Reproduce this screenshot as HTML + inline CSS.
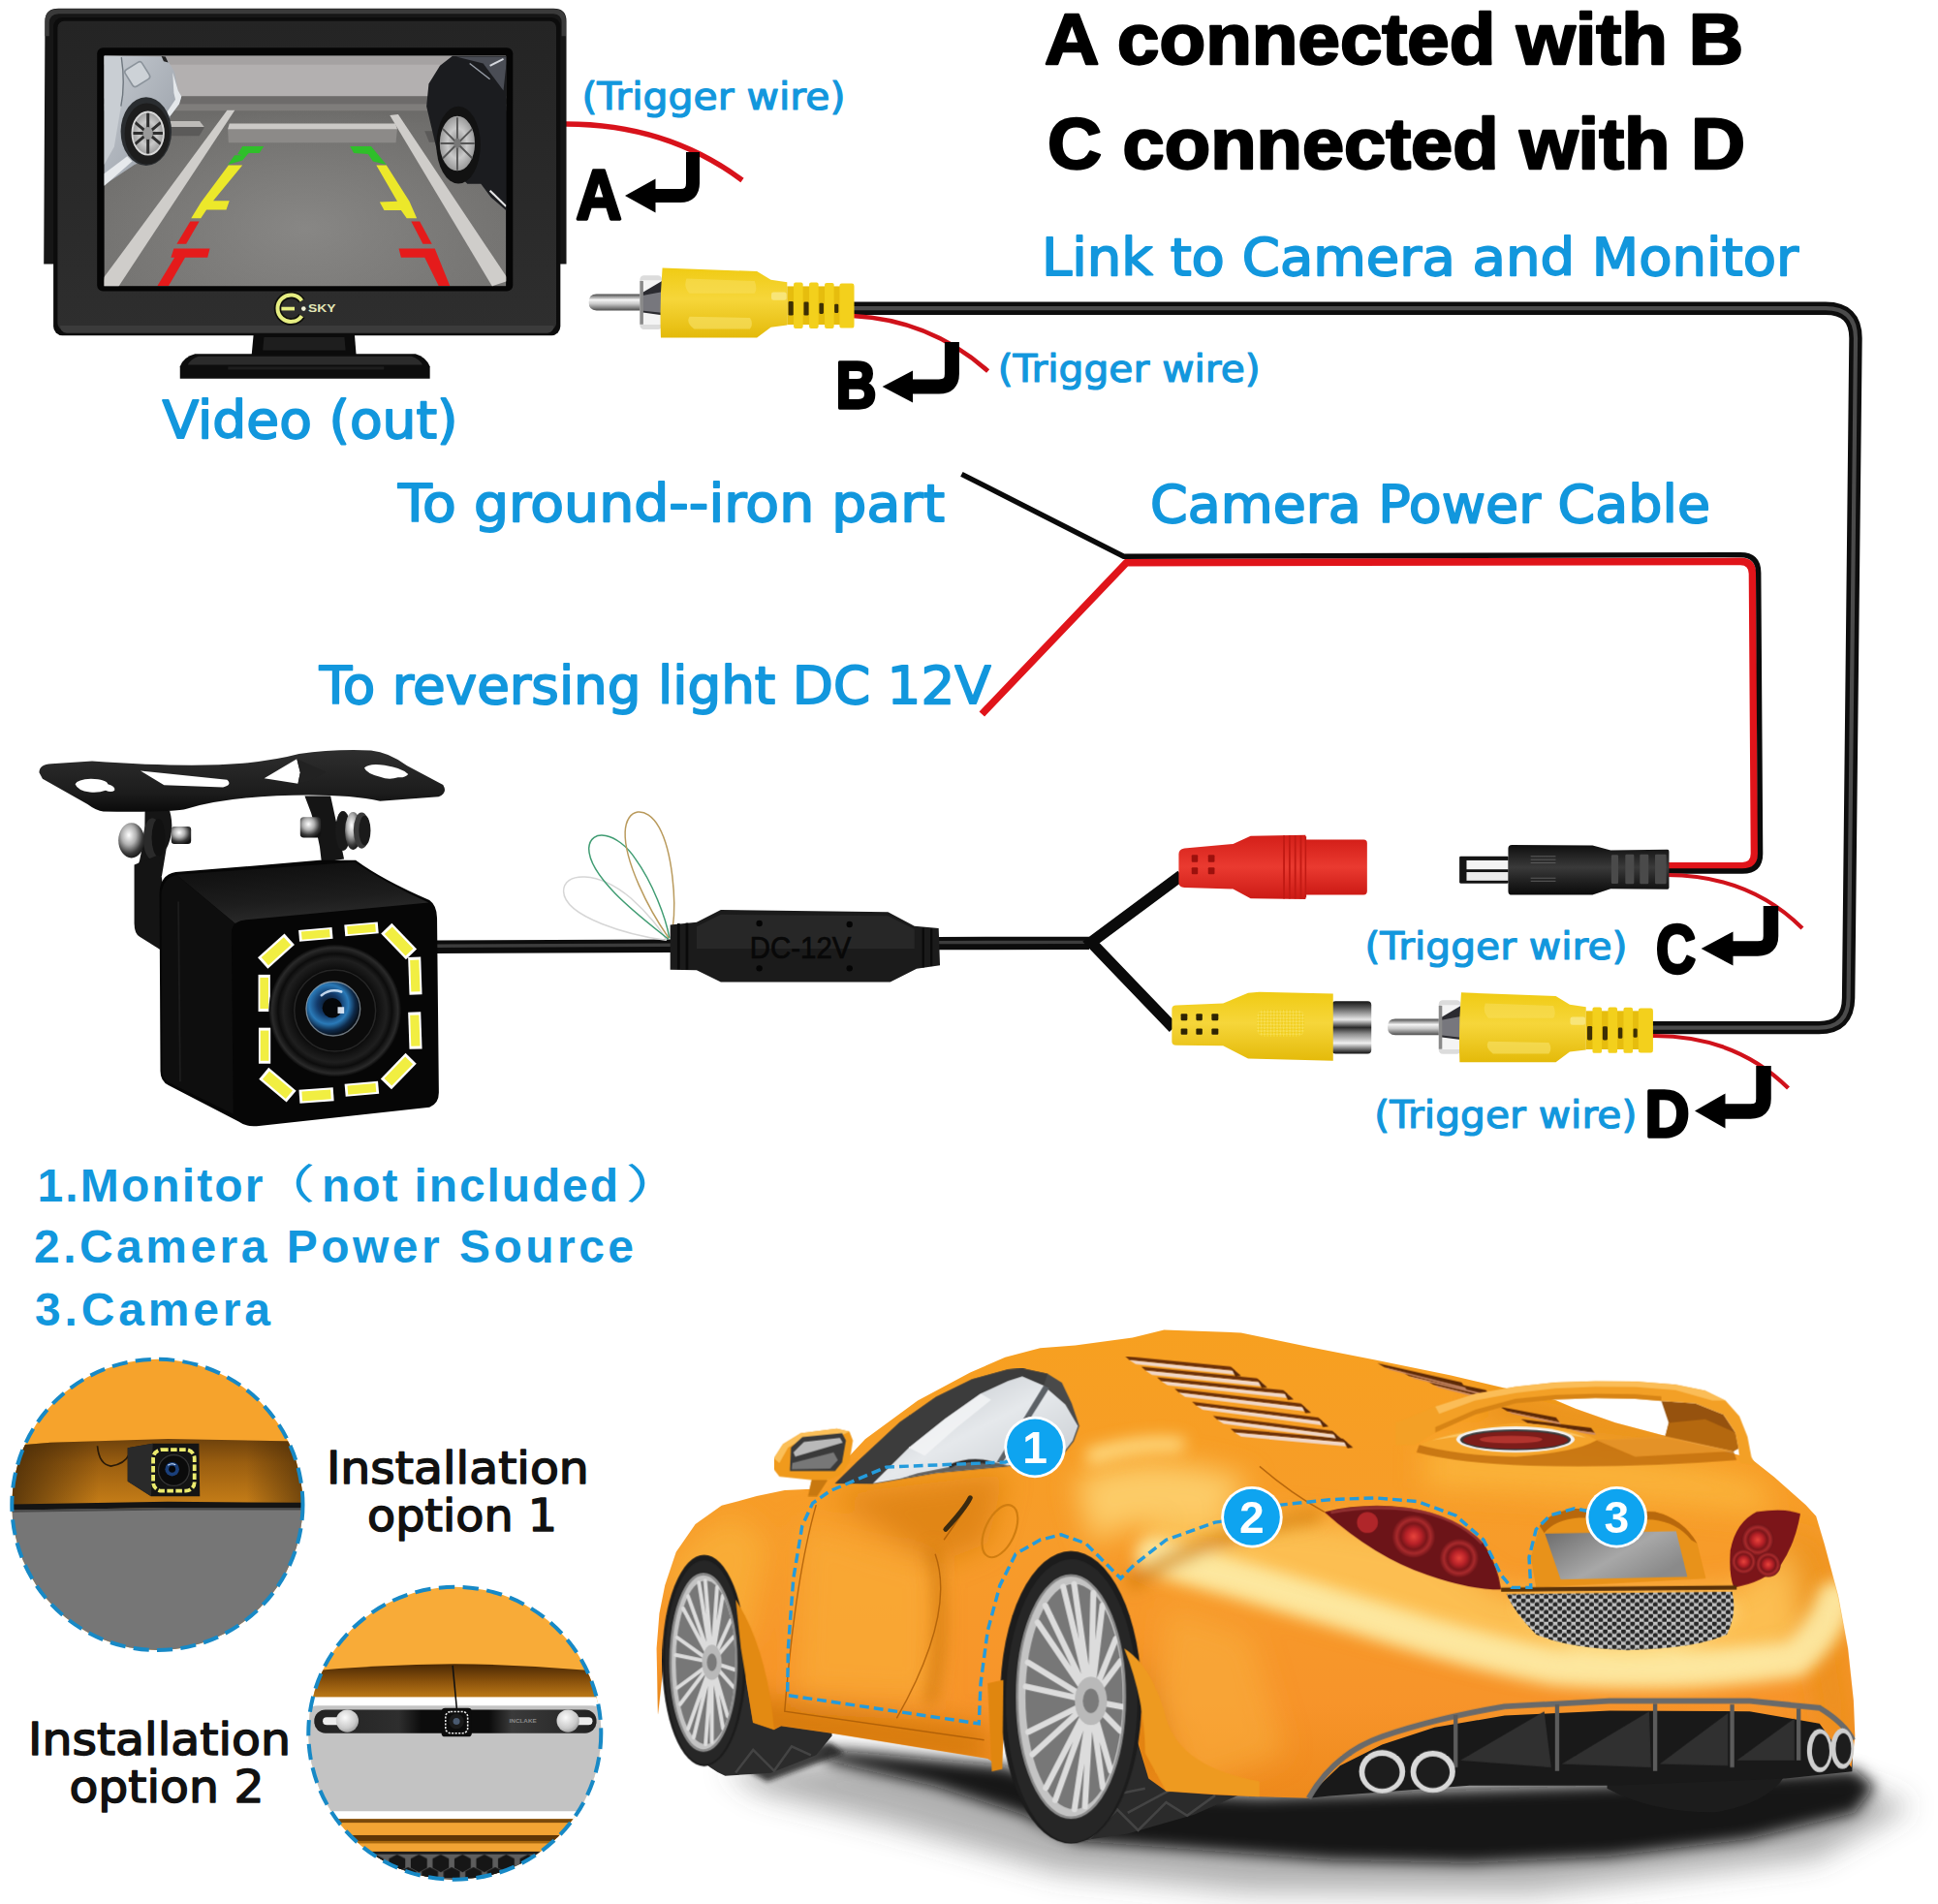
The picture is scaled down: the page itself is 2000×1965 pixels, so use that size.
<!DOCTYPE html>
<html lang="en"><head><meta charset="utf-8"><title>Backup camera wiring diagram</title>
<style>
html,body{margin:0;padding:0;background:#fff}
body{width:2000px;height:1965px;overflow:hidden;position:relative}
svg{position:absolute;left:0;top:0;display:block}
text{white-space:pre;font-family:"Liberation Sans","Noto Sans CJK SC",sans-serif}
.bl{fill:#1297dd}
.bk{fill:#000}
.b{font-weight:bold}
.dj text,text.dj{font-family:"DejaVu Sans","Liberation Sans",sans-serif}
</style></head><body>
<svg width="2000" height="1965" viewBox="0 0 2000 1965">
<defs>
<linearGradient id="gBezel" x1="0" y1="0" x2="0" y2="1"><stop offset="0" stop-color="#242424"/><stop offset="1" stop-color="#2e2e2e"/></linearGradient>
<linearGradient id="gGround" x1="0" y1="0" x2="0" y2="1"><stop offset="0" stop-color="#5e5d5b"/><stop offset="0.3" stop-color="#6f6e6c"/><stop offset="1" stop-color="#757472"/></linearGradient>
<radialGradient id="gGroundC" cx="0.5" cy="0.75" r="0.55"><stop offset="0" stop-color="#8d8c8a" stop-opacity="0.8"/><stop offset="1" stop-color="#8a8987" stop-opacity="0"/></radialGradient>
<linearGradient id="gSilver" x1="0" y1="0" x2="1" y2="1"><stop offset="0" stop-color="#c5cad0"/><stop offset="0.6" stop-color="#a7adb5"/><stop offset="1" stop-color="#8d949c"/></linearGradient>
<radialGradient id="gHub"><stop offset="0" stop-color="#8a8a8a"/><stop offset="0.55" stop-color="#c9c9c9"/><stop offset="1" stop-color="#9a9a9a"/></radialGradient>
<clipPath id="cScreen"><rect x="75" y="75" width="1787" height="1025"/></clipPath>
</defs>
<defs>
<linearGradient id="gPin" x1="0" y1="0" x2="0" y2="1"><stop offset="0" stop-color="#4a4a4a"/><stop offset="0.35" stop-color="#f4f4f4"/><stop offset="0.6" stop-color="#c8c8c8"/><stop offset="1" stop-color="#4f4f4f"/></linearGradient>
<linearGradient id="gYel" x1="0" y1="0" x2="0" y2="1"><stop offset="0" stop-color="#f0cb14"/><stop offset="0.45" stop-color="#f6d63a"/><stop offset="1" stop-color="#e4ba0a"/></linearGradient>
<linearGradient id="gRed" x1="0" y1="0" x2="0" y2="1"><stop offset="0" stop-color="#d41f19"/><stop offset="0.5" stop-color="#ea3a30"/><stop offset="1" stop-color="#cc1a15"/></linearGradient>
<linearGradient id="gSock" x1="0" y1="0" x2="0" y2="1"><stop offset="0" stop-color="#151515"/><stop offset="0.12" stop-color="#555"/><stop offset="0.35" stop-color="#e8e8e8"/><stop offset="0.5" stop-color="#2a2a2a"/><stop offset="0.62" stop-color="#8a8a8a"/><stop offset="0.8" stop-color="#f0f0f0"/><stop offset="0.95" stop-color="#444"/><stop offset="1" stop-color="#111"/></linearGradient>
<linearGradient id="gDcBody" x1="0" y1="0" x2="0" y2="1"><stop offset="0" stop-color="#0e0e0e"/><stop offset="0.45" stop-color="#3a3a3a"/><stop offset="0.7" stop-color="#222"/><stop offset="1" stop-color="#0a0a0a"/></linearGradient>
<pattern id="pDia" width="36" height="36" patternUnits="userSpaceOnUse" patternTransform="rotate(45)"><rect width="36" height="36" fill="#f1cd18"/><rect width="18" height="18" fill="#f8e05a"/><rect x="18" y="18" width="18" height="18" fill="#f8e05a"/></pattern>
<!-- RCA male plug, drawn in 6.2516x zoom space of region (590,250) -->
<g id="rcaM">
<path d="M160,335 L445,335 L445,440 L160,440 Q110,440 110,388 Q110,335 160,335Z" fill="url(#gPin)"/>
<rect x="440" y="214" width="142" height="348" rx="26" fill="#dcdcdc"/>
<rect x="452" y="246" width="130" height="286" rx="8" fill="#f4f4f4"/>
<path d="M448,330 L582,250 L582,470 L448,452Z" fill="#2b2b30"/>
<path d="M448,345 L582,320 L582,455 L448,440Z" fill="#77777d"/>
<path d="M440,250 L462,250 L462,530 L440,530Z" fill="#8a8a8a"/>
<path d="M585,165 L1195,188 L1285,243 L1390,258 L1390,535 L1285,548 L1195,615 L575,615 Q566,390 585,165Z" fill="url(#gYel)"/>
<path d="M740,235 L1180,250 Q1200,300 1180,330 L760,330 Q720,290 740,235Z" fill="#f8df5c" opacity="0.55"/>
<path d="M760,480 L1150,488 Q1175,525 1150,560 L790,560 Q735,520 760,480Z" fill="#f9e26a" opacity="0.6"/>
<rect x="1288" y="322" width="98" height="52" rx="14" fill="#f9e88a" opacity="0.8"/>
<rect x="1390" y="284" width="430" height="248" fill="#e6bd0e"/>
<g fill="#f3d01c"><rect x="1432" y="260" width="60" height="296" rx="12"/><rect x="1532" y="260" width="60" height="296" rx="12"/><rect x="1632" y="262" width="60" height="294" rx="12"/><rect x="1728" y="266" width="94" height="288" rx="14"/></g>
<g fill="#3d2f04"><rect x="1398" y="382" width="32" height="90" rx="8"/><rect x="1497" y="384" width="32" height="88" rx="8"/><rect x="1597" y="392" width="28" height="70" rx="8"/><rect x="1695" y="398" width="26" height="58" rx="8"/></g>
</g>
</defs>
<defs>
<radialGradient id="gLens" cx="0.42" cy="0.42" r="0.6"><stop offset="0" stop-color="#0a0f18"/><stop offset="0.35" stop-color="#123a6a"/><stop offset="0.6" stop-color="#2a7ab8"/><stop offset="0.8" stop-color="#0e2a4a"/><stop offset="1" stop-color="#05080c"/></radialGradient>
<radialGradient id="gLensRing" cx="0.5" cy="0.5" r="0.5"><stop offset="0.6" stop-color="#0a0a0a"/><stop offset="0.78" stop-color="#1f1f1f"/><stop offset="0.86" stop-color="#0c0c0c"/><stop offset="0.95" stop-color="#2a2a2a"/><stop offset="1" stop-color="#080808"/></radialGradient>
<linearGradient id="gCamTop" x1="0" y1="0" x2="0.3" y2="1"><stop offset="0" stop-color="#0c0c0c"/><stop offset="0.7" stop-color="#1d1d1d"/><stop offset="1" stop-color="#2a2a2a"/></linearGradient>
<linearGradient id="gPlate" x1="0" y1="0" x2="0" y2="1"><stop offset="0" stop-color="#2e2e2e"/><stop offset="0.7" stop-color="#1c1c1c"/><stop offset="1" stop-color="#0a0a0a"/></linearGradient>
<radialGradient id="gScrew" cx="0.4" cy="0.35" r="0.7"><stop offset="0" stop-color="#ffffff"/><stop offset="0.4" stop-color="#b0b0b0"/><stop offset="0.75" stop-color="#3a3a3a"/><stop offset="1" stop-color="#111"/></radialGradient>
<g id="led"><rect x="-95" y="-44" width="190" height="88" fill="#fff"/><rect x="-80" y="-31" width="160" height="62" fill="#f1ee42"/></g>
</defs>
<defs>
<filter id="b8" x="-20%" y="-20%" width="140%" height="140%"><feGaussianBlur stdDeviation="8"/></filter>
<filter id="b20" x="-30%" y="-30%" width="160%" height="160%"><feGaussianBlur stdDeviation="20"/></filter>
<filter id="b40" x="-40%" y="-40%" width="180%" height="180%"><feGaussianBlur stdDeviation="40"/></filter>
<linearGradient id="gCar" x1="0" y1="0" x2="0" y2="1"><stop offset="0" stop-color="#f7a020"/><stop offset="0.45" stop-color="#f79c2a"/><stop offset="0.8" stop-color="#f7942a"/><stop offset="1" stop-color="#ee8a1c"/></linearGradient>
<linearGradient id="gRim" x1="0" y1="0" x2="1" y2="1"><stop offset="0" stop-color="#e2e2e2"/><stop offset="0.5" stop-color="#9c9c9c"/><stop offset="1" stop-color="#6e6e6e"/></linearGradient>
<linearGradient id="gPlateC" x1="0" y1="0" x2="1" y2="0.6"><stop offset="0" stop-color="#6c6c6c"/><stop offset="0.6" stop-color="#a8a8a8"/><stop offset="1" stop-color="#8a8a8a"/></linearGradient>
<linearGradient id="gGlass" x1="0" y1="0" x2="1" y2="1"><stop offset="0" stop-color="#b8bdc2"/><stop offset="0.5" stop-color="#e6e9ec"/><stop offset="1" stop-color="#c2c7cc"/></linearGradient>
<radialGradient id="gTail"><stop offset="0" stop-color="#e8443c"/><stop offset="0.35" stop-color="#b82228"/><stop offset="0.6" stop-color="#7a161a"/><stop offset="0.78" stop-color="#a82a2c"/><stop offset="1" stop-color="#6e1418"/></radialGradient>
<pattern id="pMesh" width="26" height="22" patternUnits="userSpaceOnUse"><rect width="26" height="22" fill="#c2c2c2"/><circle cx="6.5" cy="5.5" r="7" fill="#262626"/><circle cx="19.5" cy="16.5" r="7" fill="#262626"/></pattern>
<clipPath id="cCarBody"><path id="carBodyPath" d="M108,1190 L104,1000 L112,900 L128,820 L160,725 L215,645 L290,592 L390,565 L470,548 L545,545 L590,520 L700,402 L850,292 L1000,212 L1100,168 L1200,142 L1300,134 L1464,112 L1554,90 L1774,98 L1974,140 L2154,175 L2374,220 L2500,250 L2672,291 L2729,315 L2843,355 L2981,392 L3100,425 L3227,455 L3297,510 L3387,590 L3417,622 L3440,700 L3480,850 L3508,1000 L3524,1150 L3528,1250 L3518,1340 L3427,1215 L3227,1180 L2827,1178 L2527,1192 L2327,1226 L2177,1275 L2057,1335 L1997,1392 L1967,1428 L1827,1424 L1700,1418 L1560,1408 L1510,1372 L1480,1272 L1440,1000 L1280,745 L1110,1000 L1090,1340 L1050,1315 L600,1242 L460,1222 L440,1232 L380,1212 L345,1000 L240,745 L140,900 Z"/></clipPath>
</defs>
<defs>
<clipPath id="cC1"><circle cx="937" cy="940" r="866"/></clipPath>
<clipPath id="cC2"><circle cx="962" cy="902" r="858"/></clipPath>
<linearGradient id="gBrown1" x1="0" y1="0" x2="0" y2="1"><stop offset="0" stop-color="#6e420c"/><stop offset="0.35" stop-color="#9a5e10"/><stop offset="1" stop-color="#c98018"/></linearGradient>
<linearGradient id="gBrown1h" x1="0" y1="0" x2="1" y2="0"><stop offset="0" stop-color="#3a2206" stop-opacity="0.75"/><stop offset="0.3" stop-color="#3a2206" stop-opacity="0"/><stop offset="0.8" stop-color="#3a2206" stop-opacity="0"/><stop offset="1" stop-color="#3a2206" stop-opacity="0.6"/></linearGradient>
<linearGradient id="gBrown2" x1="0" y1="0" x2="0" y2="1"><stop offset="0" stop-color="#4a2804"/><stop offset="0.5" stop-color="#8a520c"/><stop offset="1" stop-color="#c07c18"/></linearGradient>
<linearGradient id="gBar" x1="0" y1="0" x2="1" y2="0"><stop offset="0" stop-color="#222"/><stop offset="0.3" stop-color="#2e2e2e"/><stop offset="0.38" stop-color="#0c0c0c"/><stop offset="0.62" stop-color="#0c0c0c"/><stop offset="0.7" stop-color="#3a3a3a"/><stop offset="1" stop-color="#222"/></linearGradient>
<radialGradient id="gBall" cx="0.4" cy="0.35" r="0.7"><stop offset="0" stop-color="#fafafa"/><stop offset="0.7" stop-color="#c9c9c9"/><stop offset="1" stop-color="#9a9a9a"/></radialGradient>
<pattern id="pHex" width="128" height="150" patternUnits="userSpaceOnUse" x="560" y="1600"><rect width="128" height="150" fill="#5e5e5e"/><path d="M64,12 L112,38 L112,92 L64,118 L16,92 L16,38Z" fill="#161616"/><path d="M0,87 L48,113 L48,150 L0,150Z M128,87 L80,113 L80,150 L128,150Z M0,0 L0,17 L-48,43Z" fill="#161616"/></pattern>
</defs>
<g id="cables" fill="none" stroke-linecap="butt">
<!-- main video cable -->
<path d="M881,318.2 L1884,318.2 Q1915,318.2 1915,349 L1907.6,1030 Q1907.3,1060.6 1877,1060.6 L1705,1060.6" stroke="#0d0d0d" stroke-width="13.4"/>
<path d="M881,318.2 L1884,318.2 Q1915,318.2 1915,349 L1907.6,1030 Q1907.3,1060.6 1877,1060.6 L1705,1060.6" stroke="#4b4b4b" stroke-width="4.2"/>
<!-- power cable: red inner, black outer -->
<path d="M1013.3,737 L1162.5,580.6 L1796,579.4 Q1808.4,579.4 1808.5,592 L1810.5,881 Q1810.5,893.7 1798,893.7 L1720,893.7" stroke="#e0141a" stroke-width="7.6" stroke-linejoin="round"/>
<path d="M992.4,489.3 L1159.6,574.2 L1796,572.6 Q1814.6,572.6 1814.7,591 L1816.6,881 Q1816.6,899 1798,899 L1720,899" stroke="#0a0a0a" stroke-width="5.4" stroke-linejoin="miter"/>
<!-- trigger wires -->
<path d="M584,128 Q688,128 766,186" stroke="#d8121b" stroke-width="5.4"/>
<path d="M880,326 Q960,330 1019.6,383" stroke="#d0121b" stroke-width="4.6"/>
<path d="M1720,903 Q1805,903 1860,958" stroke="#d0121b" stroke-width="4.2"/>
<path d="M1704,1069 Q1790,1068 1845.5,1123" stroke="#d0121b" stroke-width="4.2"/>
<!-- camera cable -->
<path d="M448,977.2 L692,976.3" stroke="#0c0c0c" stroke-width="13.4"/>
<path d="M448,976.2 L692,975.3" stroke="#3c3c3c" stroke-width="3.4"/>
<path d="M968,973.6 L1124,973.4" stroke="#0c0c0c" stroke-width="13.4"/>
<path d="M968,972.6 L1122,972.4" stroke="#3c3c3c" stroke-width="3.4"/>
<path d="M1219,903.5 L1126,972.6 L1211,1061" stroke="#0a0a0a" stroke-width="11.6" stroke-linejoin="miter"/>
</g>
<g id="arrows" fill="#000" stroke="#000">
<path d="M715,157 L715,189 Q715,202 702,202 L675,202" fill="none" stroke-width="14"/><path d="M645,202 L676.5,184.5 L676.5,219.5Z" stroke="none"/>
<path d="M982.4,353 L982.4,386 Q982.4,399 969,399 L940,399" fill="none" stroke-width="15"/><path d="M910.6,399 L942,382.5 L942,415.5Z" stroke="none"/>
<path d="M1827.5,935 L1827.5,966 Q1827.5,979 1814,979 L1787,979" fill="none" stroke-width="15.5"/><path d="M1755.6,979 L1788.5,961.5 L1788.5,996.5Z" stroke="none"/>
<path d="M1820,1100 L1820,1134 Q1820,1147 1806.5,1147 L1779,1147" fill="none" stroke-width="15.5"/><path d="M1749,1146.5 L1780.5,1128.5 L1780.5,1164.5Z" stroke="none"/>
</g>
<g id="monitor">
<!-- coordinates in 3.23x zoom space of region (0,0) -->
<g transform="scale(0.30960)">
<path d="M150,70 Q150,28 195,28 L1845,28 Q1888,28 1888,70 L1888,880 L1850,880 L1850,1000 L185,1000 L185,880 L146,880 Z" fill="#161616"/>
<path d="M195,30 L1845,30 Q1886,30 1886,72 L1886,120 L1872,120 L1872,75 Q1872,48 1845,46 L195,46 Q165,48 164,75 L164,120 L150,120 L150,72 Q150,30 195,30Z" fill="#3a3a3a"/>
<rect x="178" y="58" width="1690" height="1060" rx="30" fill="#0c0c0c"/>
<rect x="192" y="70" width="1662" height="1030" rx="22" fill="url(#gBezel)"/>
<path d="M200,1085 L1846,1085 Q1846,1108 1825,1110 L222,1110 Q200,1108 200,1085Z" fill="#3b3b3b"/>
<!-- neck + base -->
<path d="M845,1116 L1182,1116 L1188,1192 L838,1192Z" fill="#0b0b0b"/>
<path d="M880,1124 L1148,1124 L1152,1168 L876,1168Z" fill="#1e1e1e"/>
<path d="M650,1180 L1385,1180 Q1420,1190 1433,1222 L1433,1262 L600,1262 L600,1222 Q612,1190 650,1180Z" fill="#0d0d0d"/>
<path d="M662,1188 L1372,1188 Q1398,1196 1408,1216 L626,1216 Q636,1196 662,1188Z" fill="#2b2b2b"/>
<rect x="760" y="1222" width="520" height="10" fill="#1d1d1d"/>
<!-- logo -->
<path d="M1005.9,1002.4 A44.3,44.3 0 1 0 1005.9,1053.2" fill="none" stroke="#0e0e0a" stroke-width="24"/>
<path d="M1005.9,1002.4 A44.3,44.3 0 1 0 1005.9,1053.2" fill="none" stroke="#e6ee82" stroke-width="13"/>
<path d="M938,1029 L982,1029" stroke="#e6ee82" stroke-width="12"/>
<circle cx="1012" cy="1029" r="7.5" fill="#f0f2d8"/>
<text x="1027" y="1041" font-size="33" font-weight="bold" fill="#e4e8b8" textLength="92" lengthAdjust="spacingAndGlyphs">SKY</text>
</g>
<!-- screen: coordinates in 4.307x zoom space of region (90,40) -->
<g transform="translate(90,40) scale(0.23218)">
<rect x="44" y="40" width="1848" height="1082" rx="26" fill="#050505"/>
<g clip-path="url(#cScreen)">
<rect x="75" y="75" width="1787" height="1025" fill="url(#gGround)"/>
<rect x="75" y="75" width="1787" height="1025" fill="url(#gGroundC)"/>
<!-- wall -->
<rect x="75" y="75" width="1787" height="190" fill="#b3b0b0"/>
<rect x="75" y="75" width="1787" height="40" fill="#a5a2a2"/>
<rect x="75" y="255" width="1787" height="45" fill="#6d6b6a"/>
<rect x="75" y="290" width="1787" height="30" fill="#7f7d7b"/>
<!-- parking lines -->
<path d="M622,318 L656,318 L140,1100 L70,1100 L75,1060Z" fill="#cfcdca"/>
<path d="M1345,340 L1382,336 L1875,1075 L1800,1100Z" fill="#cfcdca"/>
<!-- curb blocks -->
<path d="M625,400 L1378,400 L1372,462 L628,462Z" fill="#8c8a88"/>
<path d="M632,377 L1370,377 L1378,402 L625,402Z" fill="#cbc9c6"/>
<path d="M362,372 L505,372 L520,395 L498,432 L365,432Z" fill="#5b5a59"/>
<path d="M362,366 L500,366 L520,392 L372,392Z" fill="#bdbbb8"/>
<path d="M1500,410 L1570,410 L1570,460 L1520,460Z" fill="#5b5a59"/>
<!-- left silver car -->
<path d="M75,75 L348,80 L388,148 L404,230 L419,256 L409,290 L368,345 L352,500 L210,560 L75,650Z" fill="url(#gSilver)"/>
<path d="M75,75 L150,78 Q165,200 150,300 L120,480 L75,560Z" fill="#c9ced3"/>
<path d="M152,82 Q170,200 150,300" fill="none" stroke="#6e767e" stroke-width="6"/>
<path d="M330,78 L348,80 L360,105 L340,100Z" fill="#222"/>
<rect x="-44" y="-44" width="88" height="88" rx="14" transform="translate(223,158) rotate(-32)" fill="#cdd2d7" stroke="#8b939b" stroke-width="7"/>
<path d="M380,150 L404,230 L419,256 L409,290 L368,345 L352,330 L392,270 L385,240Z" fill="#e4e7ea"/>
<ellipse cx="262" cy="412" rx="113" ry="152" fill="#2a2d30"/>
<path d="M75,600 L178,522 L200,545 L75,655Z" fill="#e6e9ec"/>
<ellipse cx="266" cy="422" rx="100" ry="136" fill="#1d1d1d"/>
<ellipse cx="270" cy="420" rx="70" ry="95" fill="url(#gHub)"/>
<g stroke="#2e2e2e" stroke-width="13"><path d="M270,328 L270,512M208,368 L332,472M208,472 L332,368M202,420 L338,420"/></g>
<ellipse cx="270" cy="420" rx="22" ry="28" fill="#9a9a9a"/>
<ellipse cx="270" cy="420" rx="70" ry="95" fill="none" stroke="#d8d8d8" stroke-width="8"/>
<!-- right black car -->
<path d="M1625,75 L1870,75 L1870,770 L1795,705 L1750,645 L1690,645 L1560,520 L1508,300 L1518,200 L1568,120Z" fill="#1b1c1f"/>
<path d="M1640,80 L1760,110 L1850,230 L1862,120 L1862,80Z" fill="#4a4d55"/>
<path d="M1700,110 L1790,180" stroke="#9aa0aa" stroke-width="6"/>
<path d="M1790,120 L1850,90" stroke="#d5d8de" stroke-width="8"/>
<path d="M1790,675 L1862,745" stroke="#e5e5e5" stroke-width="9"/>
<ellipse cx="1650" cy="472" rx="98" ry="172" fill="#121212"/>
<ellipse cx="1645" cy="465" rx="78" ry="122" fill="url(#gHub)"/>
<g stroke="#555" stroke-width="8"><path d="M1645,350 L1645,585M1580,400 L1712,532M1580,532 L1712,400M1570,465 L1722,465"/></g>
<ellipse cx="1645" cy="465" rx="15" ry="22" fill="#777"/>
<!-- guide lines -->
<g stroke="none">
<path d="M690,478 L785,478 L765,508 L718,508 L690,540 L690,540 L625,560 L655,518 L690,518 L668,512Z" fill="#2fbf2a"/>
<path d="M1168,478 L1262,478 L1330,560 L1270,545 L1248,512 L1185,508Z" fill="#2fbf2a"/>
<path d="M628,562 L690,562 L560,720 L632,720 L618,760 L530,760 L505,798 L462,798 L505,728Z" fill="#ece82a"/>
<path d="M1285,562 L1330,562 L1432,722 L1465,798 L1420,798 L1395,762 L1320,762 L1300,726 L1378,722Z" fill="#ece82a"/>
<path d="M458,812 L498,812 L440,912 L398,912Z" fill="#e51b1b"/>
<path d="M385,932 L545,932 L535,972 L435,972 L362,1098 L312,1098 L388,972 L372,972Z" fill="#e51b1b"/>
<path d="M1440,812 L1478,812 L1532,912 L1492,912Z" fill="#e51b1b"/>
<path d="M1385,932 L1545,932 L1612,1098 L1562,1098 L1500,972 L1395,972Z" fill="#e51b1b"/>
</g>
</g>
</g>
</g>
<g id="connectors">
<use href="#rcaM" transform="translate(590,250) scale(0.15996)"/>
<use href="#rcaM" transform="translate(1414.4,997.9) scale(0.15996)"/>
<!-- yellow female RCA: 7.752x zoom space of region (1190,1000) -->
<g transform="translate(1190,1000) scale(0.129)">
<rect x="1430" y="258" width="316" height="420" rx="30" fill="url(#gSock)"/>
<path d="M150,320 Q150,290 185,290 L560,275 L760,192 L850,184 L1440,198 L1440,735 L760,718 L560,615 L185,610 Q150,610 150,580Z" fill="url(#gYel)"/>
<rect x="830" y="325" width="380" height="215" rx="60" fill="url(#pDia)" opacity="0.85"/>
<g fill="#2e2403"><rect x="222" y="358" width="52" height="54" rx="8"/><rect x="344" y="358" width="50" height="54" rx="8"/><rect x="468" y="358" width="54" height="54" rx="8"/><rect x="222" y="476" width="52" height="50" rx="8"/><rect x="344" y="476" width="50" height="50" rx="8"/><rect x="468" y="476" width="54" height="50" rx="8"/></g>
</g>
<!-- red female DC: 7.752x zoom space of region (1190,840) -->
<g transform="translate(1190,840) scale(0.129)">
<rect x="1200" y="205" width="512" height="442" rx="28" fill="url(#gRed)"/>
<path d="M205,320 Q205,285 250,275 L640,240 L780,176 L1220,168 L1220,682 L780,676 L640,600 L250,590 Q205,585 205,550Z" fill="url(#gRed)"/>
<g fill="#c21a14"><rect x="1040" y="172" width="14" height="506"/><rect x="1085" y="172" width="14" height="506"/><rect x="1130" y="172" width="14" height="506"/><rect x="1175" y="172" width="14" height="506"/><rect x="1214" y="180" width="12" height="490"/></g>
<g fill="#9c110d"><rect x="308" y="328" width="50" height="58" rx="8"/><rect x="440" y="328" width="52" height="58" rx="8"/><rect x="308" y="428" width="50" height="54" rx="8"/><rect x="440" y="428" width="52" height="54" rx="8"/></g>
</g>
<!-- black DC male plug: 7.752x zoom space of region (1490,850) -->
<g transform="translate(1490,850) scale(0.129)">
<rect x="125" y="262" width="392" height="216" rx="10" fill="#141414"/>
<rect x="182" y="294" width="335" height="72" fill="#f3f3f3"/>
<rect x="182" y="388" width="335" height="68" fill="#ececec"/>
<path d="M545,170 L1190,174 L1335,214 L1790,208 Q1802,208 1802,222 L1802,512 Q1802,526 1790,526 L1335,522 L1190,570 L545,570 Q515,570 515,540 L515,200 Q515,170 545,170Z" fill="url(#gDcBody)"/>
<g fill="#4a4a4a"><rect x="1340" y="250" width="56" height="230" rx="10"/><rect x="1452" y="246" width="70" height="236" rx="10"/><rect x="1568" y="246" width="70" height="236" rx="10"/><rect x="1690" y="246" width="90" height="236" rx="10"/></g>
<g fill="#5a5a5a"><rect x="695" y="258" width="200" height="8"/><rect x="695" y="284" width="200" height="8"/><rect x="695" y="310" width="200" height="8"/><rect x="695" y="432" width="200" height="8"/><rect x="695" y="456" width="200" height="8"/></g>
</g>
<!-- DC-12V inline box: 4.4045x zoom space of region (560,820) -->
<g transform="translate(560,820) scale(0.22704)">
<g fill="none" stroke-width="6.5" stroke-linecap="round">
<path d="M560,662 C400,640 100,560 95,440 C95,350 250,345 400,470 C480,540 540,620 562,660" stroke="#d6d6d6"/>
<path d="M570,656 C450,560 210,380 210,245 C215,150 340,170 420,290 C500,400 560,560 576,650" stroke="#3f9c72"/>
<path d="M572,650 C480,520 370,300 375,170 C380,60 470,45 530,150 C590,260 608,480 592,600" stroke="#b99a5c"/>
</g>
<path d="M580,592 L700,580 L810,524 L1570,534 L1690,598 L1800,608 L1806,776 L1700,792 L1580,852 L810,852 L700,798 L580,796Z" fill="#1b1b1b"/>
<path d="M700,600 L810,545 L1570,552 L1690,612 L1690,700 L700,700Z" fill="#272727"/>
<g fill="#0a0a0a"><rect x="612" y="586" width="12" height="208"/><rect x="650" y="584" width="12" height="212"/><rect x="1725" y="606" width="10" height="180"/><rect x="1762" y="608" width="10" height="172"/></g>
<g fill="#050505"><circle cx="985" cy="586" r="14"/><circle cx="1395" cy="590" r="14"/><circle cx="985" cy="790" r="14"/><circle cx="1395" cy="790" r="14"/></g>
<text x="942" y="746" font-size="142" fill="#080808" stroke="#080808" stroke-width="3" textLength="460" lengthAdjust="spacingAndGlyphs">DC-12V</text>
</g>
</g>
<g id="camera">
<!-- bracket: 4.3067x zoom space of region (30,760) -->
<g transform="translate(30,760) scale(0.2322)">
<!-- arms -->
<path d="M515,330 L625,330 Q650,420 610,500 L590,620 L470,620 Q520,480 515,330Z" fill="#151515"/>
<path d="M1225,265 L1340,265 Q1370,400 1400,545 L1300,560 Q1290,420 1225,265Z" fill="#151515"/>
<!-- screws -->
<ellipse cx="455" cy="462" rx="58" ry="78" fill="url(#gScrew)"/>
<ellipse cx="548" cy="455" rx="40" ry="92" fill="#2a2a2a"/><ellipse cx="575" cy="450" rx="30" ry="84" fill="#111"/>
<rect x="632" y="400" width="88" height="78" rx="14" fill="url(#gScrew)"/>
<rect x="1205" y="358" width="92" height="92" rx="16" fill="url(#gScrew)"/>
<ellipse cx="1395" cy="420" rx="34" ry="88" fill="#1a1a1a"/>
<ellipse cx="1440" cy="420" rx="36" ry="84" fill="url(#gScrew)"/><ellipse cx="1478" cy="418" rx="36" ry="80" fill="#3a3a3a"/><ellipse cx="1492" cy="418" rx="26" ry="66" fill="#1a1a1a"/>
<!-- plate -->
<path d="M45,160 Q45,125 100,122 L280,110 Q700,140 950,120 Q1100,105 1200,78 Q1350,55 1520,62 Q1600,70 1680,130 L1840,215 Q1862,252 1820,268 L1560,288 Q1400,252 1100,264 Q850,276 700,322 Q650,338 330,334 Q300,332 260,302 L60,188 Z" fill="url(#gPlate)"/>
<g fill="#fff">
<path d="M205,212 Q215,190 275,188 Q345,190 350,212 Q385,222 380,240 Q365,252 340,240 Q310,252 270,248 Q215,240 205,212Z"/>
<path d="M495,153 L880,193 Q905,215 862,226 L600,216 Z"/>
<path d="M1045,186 L1190,100 L1205,160 L1195,210 Z"/>
<path d="M1490,140 Q1510,118 1580,128 Q1660,140 1685,168 Q1670,185 1640,182 Q1600,195 1560,180 Q1500,165 1490,140Z"/>
</g>
<path d="M1190,100 L1320,158 L1250,196 L1195,210 L1205,160Z" fill="#222"/>
</g>
<!-- body: 5.3833x zoom space of region (120,860) -->
<g transform="translate(120,860) scale(0.18576)">
<path d="M100,175 L235,120 L260,300 L250,650 L130,575 Q100,555 100,500Z" fill="#141414"/>
<path d="M240,340 Q240,232 330,216 L1130,150 L1330,150 Q1480,260 1740,372 Q1780,400 1782,470 L1792,1440 Q1792,1502 1740,1522 L780,1627 Q720,1632 680,1602 L290,1400 Q245,1376 245,1320 Z" fill="#060606"/>
<path d="M335,230 L1325,160 Q1500,280 1735,385 L720,480 Q690,480 660,500 Z" fill="url(#gCamTop)"/>
<path d="M250,345 Q255,250 335,232 L660,500 Q640,520 640,560 L650,1560 L292,1385 Q255,1365 255,1320Z" fill="#0e0e0e"/>
<path d="M345,380 L355,1380" stroke="#1c1c1c" stroke-width="10"/>
<!-- LEDs -->
<use href="#led" transform="translate(1108,562) rotate(-5) scale(0.98,0.72)"/>
<use href="#led" transform="translate(1362,532) rotate(-5) scale(0.98,0.72)"/>
<use href="#led" transform="translate(888,655) rotate(-42) scale(1.05,0.95)"/>
<use href="#led" transform="translate(1570,600) rotate(46) scale(1.05,0.95)"/>
<use href="#led" transform="translate(822,888) rotate(90) scale(1.08,0.75)"/>
<use href="#led" transform="translate(824,1180) rotate(90) scale(1.05,0.75)"/>
<use href="#led" transform="translate(1660,792) rotate(88) scale(1.1,0.8)"/>
<use href="#led" transform="translate(1660,1096) rotate(88) scale(1.08,0.8)"/>
<use href="#led" transform="translate(896,1398) rotate(40) scale(1.05,0.95)"/>
<use href="#led" transform="translate(1568,1322) rotate(-46) scale(1.05,0.95)"/>
<use href="#led" transform="translate(1112,1456) rotate(-4) scale(1.0,0.85)"/>
<use href="#led" transform="translate(1364,1420) rotate(-5) scale(0.98,0.8)"/>
<!-- lens -->
<circle cx="1215" cy="985" r="368" fill="url(#gLensRing)"/>
<circle cx="1215" cy="985" r="232" fill="#0b0b0b"/>
<circle cx="1215" cy="985" r="226" fill="none" stroke="#262626" stroke-width="8"/>
<circle cx="1205" cy="975" r="152" fill="url(#gLens)"/>
<circle cx="1205" cy="975" r="150" fill="none" stroke="#9aa6b0" stroke-width="7" opacity="0.7"/>
<circle cx="1200" cy="970" r="55" fill="#05070a"/>
<path d="M1140,900 Q1190,860 1250,880" fill="none" stroke="#dfefff" stroke-width="14" stroke-linecap="round" opacity="0.85"/>
<rect x="1230" y="965" width="36" height="36" fill="#e8f2ff" opacity="0.9"/>
</g>
</g>
<g id="car" transform="translate(640,1340) scale(0.36119)">
<!-- ground shadow -->
<g filter="url(#b40)"><path d="M300,1345 L700,1310 L1200,1400 L3500,1380 L3690,1450 L3420,1600 L2600,1700 L1800,1695 L1250,1640 L800,1510 L400,1410Z" fill="#555" opacity="0.45"/></g>
<g filter="url(#b20)"><path d="M560,1285 L1100,1335 L1300,1400 L1827,1425 L2827,1390 L3527,1345 L3585,1395 L3527,1470 L3227,1545 L2827,1595 L2427,1615 L2027,1605 L1700,1580 L1300,1550 L1150,1475 L900,1395 L600,1325Z" fill="#0a0a0a" opacity="0.95"/></g>
<g filter="url(#b8)"><path d="M330,1330 L600,1270 L640,1300 L420,1380Z" fill="#1a1a1a" opacity="0.8"/></g>
<!-- far rear wheel under bumper -->
<path d="M2820,1340 L3340,1340 Q3300,1440 3130,1468 Q2950,1470 2820,1400Z" fill="#1c1c1c"/>
<!-- tyre treads -->
<path d="M150,1150 Q190,1320 300,1364 L430,1356 L560,1305 L605,1250 L605,1000 L240,1000Z" fill="#2b2b2b"/>
<path d="M1110,1200 Q1160,1480 1300,1552 L1450,1530 L1640,1475 L1765,1420 L1765,1100 L1290,1100Z" fill="#2b2b2b"/>
<g stroke="#444" stroke-width="7" fill="none"><path d="M330,1355 L380,1290 L440,1350 L490,1280 L545,1305"/><path d="M1340,1545 L1420,1460 L1480,1520 L1560,1440 L1620,1478 L1700,1420"/><path d="M1400,1420 L1500,1400 M1450,1470 L1580,1400"/></g>
<!-- black underbody / diffuser -->
<path d="M1967,1428 Q2040,1300 2177,1252 Q2327,1200 2527,1166 L2827,1150 L3227,1150 L3427,1170 Q3500,1215 3522,1262 L3520,1352 L3330,1372 L2827,1392 L2427,1392 L2027,1422Z" fill="#191919"/>
<!-- body -->
<use href="#carBodyPath" fill="url(#gCar)"/>
<g clip-path="url(#cCarBody)">
<!-- shading -->
<g filter="url(#b40)">
<path d="M1500,640 Q1900,590 2300,690 L2520,840 L3180,830 L3380,690 L3470,880 Q3400,1040 3012,1085 Q2669,1075 2441,1015 Q2100,930 1526,770Z" fill="#fcc255" opacity="0.9"/>
<path d="M2300,420 Q2800,400 3250,520 L3300,620 Q2800,560 2300,540Z" fill="#fbb840" opacity="0.8"/>
<path d="M1300,520 Q1500,420 1800,520 L1700,640 Q1500,600 1350,700Z" fill="#fdd070" opacity="0.9"/>
<path d="M520,640 Q700,700 900,760 L900,1150 L500,1130Z" fill="#f9ac38" opacity="0.7"/>
<path d="M600,560 L1100,500 L1050,700 L900,760Z" fill="#d97f0c" opacity="0.75"/>
<path d="M100,1100 L480,1150 L1050,1230 L1050,1330 L100,1230Z" fill="#c96f08" opacity="0.7"/>
<path d="M3320,640 L3450,700 L3540,1300 L3420,1200Z" fill="#ea8e16" opacity="0.8"/>
<path d="M1480,1000 Q1600,1250 1540,1420 L1460,1300Z" fill="#d27808" opacity="0.7"/>
<path d="M120,800 Q200,660 330,620 L420,700 L360,1000Z" fill="#f9b43c" opacity="0.7"/>
<path d="M2500,260 L3100,400 L3000,450 L2450,330Z" fill="#e08a14" opacity="0.7"/>
<path d="M1560,880 L1800,960 L1900,1300 L1620,1400 L1540,1150Z" fill="#fab040" opacity="0.55"/>
</g>
<g filter="url(#b20)">
<path d="M1526,735 Q1869,828 2212,936 Q2441,1008 2669,1052 Q3012,1078 3355,1030 Q3440,960 3472,860" fill="none" stroke="#fdeca6" stroke-width="105" opacity="0.92" stroke-linecap="round"/>
<path d="M1440,790 Q1700,640 2000,600 L2000,640 Q1700,690 1460,840Z" fill="#c97208" opacity="0.55"/>
<path d="M900,700 Q960,900 900,1160 L870,1160 Q920,900 880,720Z" fill="#c06a06" opacity="0.6"/>
<path d="M1330,430 Q1500,380 1620,400 L1600,440 Q1480,430 1340,480Z" fill="#ffe08a" opacity="0.85"/>
<path d="M2560,870 L3170,862 L3200,900 Q3100,1010 2877,1030 Q2650,1010 2560,870Z" fill="#fddf8a" opacity="0.6"/>
</g>
</g>
<!-- wheel arches + wheels -->
<ellipse cx="1288" cy="1140" rx="202" ry="418" fill="#1c1c1c"/>
<ellipse cx="240" cy="1035" rx="120" ry="302" fill="#1c1c1c"/>
<ellipse cx="240" cy="1040" rx="112" ry="292" fill="#262626"/>
<ellipse cx="238" cy="1040" rx="94" ry="252" fill="#c4c4c4"/>
<ellipse cx="244" cy="1040" rx="85" ry="234" fill="#777"/>
<path d="M262,1040 L328,1061 M262,1040 L324,1111 M262,1040 L307,1194 M262,1040 L294,1229 M262,1040 L262,1268 M262,1040 L244,1274 M262,1040 L210,1255 M262,1040 L194,1230 M262,1040 L171,1160 M262,1040 L163,1113 M262,1040 L159,1019 M262,1040 L163,969 M262,1040 L180,886 M262,1040 L194,851 M262,1040 L225,812 M262,1040 L243,806 M262,1040 L277,825 M262,1040 L293,850 M262,1040 L316,920 M262,1040 L324,967" stroke="#dcdcdc" stroke-width="11" fill="none" stroke-linecap="round"/>
<ellipse cx="262" cy="1040" rx="28" ry="50" fill="#b9b9b9"/>
<ellipse cx="262" cy="1040" rx="14" ry="25" fill="#7a7a7a"/>
<ellipse cx="238" cy="1040" rx="94" ry="252" fill="none" stroke="#8a8a8a" stroke-width="7"/>
<ellipse cx="1290" cy="1150" rx="188" ry="405" fill="#262626"/>
<ellipse cx="1288" cy="1138" rx="154" ry="346" fill="#c4c4c4"/>
<ellipse cx="1297" cy="1138" rx="139" ry="322" fill="#777"/>
<path d="M1345,1150 L1435,1167 M1345,1150 L1429,1236 M1345,1150 L1402,1350 M1345,1150 L1379,1398 M1345,1150 L1328,1452 M1345,1150 L1298,1460 M1345,1150 L1243,1434 M1345,1150 L1216,1399 M1345,1150 L1178,1303 M1345,1150 L1166,1239 M1345,1150 L1159,1109 M1345,1150 L1165,1040 M1345,1150 L1193,926 M1345,1150 L1215,878 M1345,1150 L1266,824 M1345,1150 L1297,816 M1345,1150 L1352,842 M1345,1150 L1378,877 M1345,1150 L1416,973 M1345,1150 L1429,1037" stroke="#dcdcdc" stroke-width="17" fill="none" stroke-linecap="round"/>
<ellipse cx="1345" cy="1150" rx="46" ry="69" fill="#b9b9b9"/>
<ellipse cx="1345" cy="1150" rx="23" ry="35" fill="#7a7a7a"/>
<ellipse cx="1288" cy="1138" rx="154" ry="346" fill="none" stroke="#8a8a8a" stroke-width="7"/>
<!-- mudflaps over wheels -->
<path d="M345,1000 L330,860 Q420,1000 440,1232 L380,1212Z" fill="#e38a12"/>
<path d="M1050,1100 L1095,1090 L1092,1345 L1062,1352Z" fill="#e0860f"/>
<path d="M1440,1000 Q1500,1150 1500,1300 L1560,1408 L1827,1424 L1827,1380 Q1600,1340 1560,1200 Q1520,1050 1440,1000Z" fill="#ee9a20"/>
<!-- windows -->
<path d="M614,529 L676,468 L799,354 L902,282 L1005,231 L1108,203 L1149,200 L1221,215 L1262,241 L1290,300 L1312,365 L1296,408 L1264,449 L1108,480 L902,500 L778,521 L722,530Z" fill="#4a4a4a"/>
<path d="M614,529 L676,468 L799,354 L902,282 L1005,231 L1108,203 L1149,200 L1221,215 L1210,249 L1149,223 L1108,236 L1030,272 L928,344 L825,426 L722,529Z" fill="#3c3c3c"/>
<path d="M722,529 L825,426 L928,344 L1030,272 L1108,236 L1149,223 L1210,249 L1272,303 L1308,365 L1293,406 L1262,447 L1108,478 L902,498 L778,519Z" fill="url(#gGlass)"/>
<path d="M825,426 L928,344 L1030,272 L1060,290 L960,370 L870,450Z" fill="#f4f5f6" opacity="0.8"/>
<path d="M1210,249 L1226,256 L1092,470 L1076,468Z" fill="#5c6166"/>
<path d="M850,500 L1000,470 Q1060,462 1110,478 L902,498 L800,515Z" fill="#4c4a46" opacity="0.85"/>
<path d="M940,480 Q1000,455 1060,470" stroke="#2a2a2a" stroke-width="10" fill="none"/>
<!-- mirror -->
<path d="M439,457 L465,416 L516,385 L619,372 L655,380 L665,406 L655,468 L629,504 L593,519 L563,565 L537,565 L547,519 L455,509 L439,488Z" fill="#f09a1c"/>
<path d="M439,457 L465,416 L516,385 L619,372 L655,380 L640,388 L530,398 L480,426 L455,470Z" fill="#fbbf58"/>
<path d="M488,426 L521,396 L634,385 L645,406 L634,468 L614,493 L485,493Z" fill="#3a3a3a"/>
<path d="M495,440 L525,410 L628,398 L636,412 L500,452Z" fill="#b9b9b9"/>
<path d="M492,470 L610,440 L622,462 L600,486 L490,488Z" fill="#777"/>
<path d="M547,519 L593,519 L563,565 L537,565Z" fill="#c87810"/>
<!-- louvers -->
<g>
<path d="M1443,165 L1744,195 L1758,207 L1455,176Z M1489,195 L1819,228 L1833,240 L1501,206Z M1534,225 L1894,262 L1908,274 L1546,236Z M1584,258 L1944,300 L1958,312 L1596,269Z M1634,295 L1994,340 L2008,352 L1646,306Z M1694,335 L2034,378 L2048,390 L1706,346Z M1744,372 L2064,400 L2078,412 L1756,383Z" fill="#6e3208"/>
<path d="M1455,176 L1758,207 L1770,219 L1473,188Z M1501,206 L1833,240 L1845,252 L1519,218Z M1546,236 L1908,274 L1920,286 L1564,248Z M1596,269 L1958,312 L1970,324 L1614,281Z M1646,306 L2008,352 L2020,364 L1664,318Z M1706,346 L2048,390 L2060,402 L1724,358Z M1756,383 L2078,412 L2090,424 L1774,395Z" fill="#f0d6c6"/>
<path d="M1744,195 L1774,221 L1758,223Z M1819,228 L1849,254 L1833,256Z M1894,262 L1924,288 L1908,290Z M1944,300 L1974,326 L1958,328Z M1994,340 L2024,366 L2008,368Z M2034,378 L2064,404 L2048,406Z M2064,400 L2094,426 L2078,428Z" fill="#5a2806"/>
<path d="M2164,185 L2404,240 L2414,254 L2184,197Z M2234,210 L2474,262 L2484,276 L2254,222Z M2304,235 L2464,270 L2474,284 L2324,247Z M2514,310 L2674,340 L2684,354 L2534,322Z M2574,345 L2774,370 L2784,384 L2594,357Z" fill="#5e2a06"/>
<path d="M2184,197 L2414,254 L2418,260 L2198,204Z M2254,222 L2484,276 L2488,282 L2268,229Z M2324,247 L2474,284 L2478,290 L2338,254Z M2534,322 L2684,354 L2688,360 L2548,329Z M2594,357 L2784,384 L2788,390 L2608,364Z" fill="#c98a6a"/>
</g>
<!-- spoiler -->
<path d="M2975,293 L3072,300 L3152,332 L3186,383 L3195,429 L3181,436 L2986,395 L2996,355Z" fill="#96520e"/>
<path d="M2996,355 L3100,345 L3186,383 L3195,429 L3181,436 L2986,395Z" fill="#b4680f"/>
<path d="M2215,355 L2329,309 L2443,272 L2558,252 L2672,240 L2786,236 L2900,237 L3015,246 L3100,263 L3158,292 L3198,337 L3221,395 L3232,452 L3244,476 L3200,470 L3195,429 L3186,383 L3152,332 L3072,300 L2975,293 L2900,287 L2786,285 L2672,289 L2558,300 L2443,332 L2329,383 L2272,418 L2215,420Z" fill="#f3a026"/>
<path d="M2329,309 L2443,272 L2558,252 L2672,240 L2786,236 L2900,237 L3015,246 L3100,263 L3158,292 L3120,292 L3015,262 L2900,253 L2786,252 L2672,257 L2558,270 L2443,292 L2340,330Z" fill="#fcc260" opacity="0.85"/>
<path d="M2329,383 L2443,332 L2558,300 L2672,289 L2786,285 L2900,287 L2975,293 L2975,280 L2900,274 L2786,272 L2672,276 L2558,287 L2443,318 L2329,368Z" fill="#cf7d12" opacity="0.8"/>
<path d="M2283,418 Q2390,372 2558,355 Q2730,362 2790,405 Q2730,440 2558,452 Q2390,448 2283,418Z" fill="#f5a52c"/>
<path d="M2320,405 Q2420,375 2558,365 Q2700,370 2760,398 Q2700,385 2558,382 Q2420,388 2320,405Z" fill="#fdc86a" opacity="0.85"/>
<path d="M2283,418 Q2390,448 2558,452 Q2730,440 2790,405 L2990,400 L3181,436 L3190,462 Q2900,485 2600,478 Q2400,472 2275,440Z" fill="#c2700e" opacity="0.85"/>
<path d="M2790,405 L2980,392 L3181,436 L2900,452Z" fill="#e8962a" opacity="0.9"/>
<ellipse cx="2558" cy="403" rx="169" ry="37" fill="#f2f2f2"/><ellipse cx="2558" cy="404" rx="158" ry="30" fill="#3a3a3a"/><ellipse cx="2558" cy="405" rx="150" ry="25" fill="#7d1d1a"/><ellipse cx="2545" cy="403" rx="90" ry="11" fill="#b2342e"/>
<!-- tail lights -->
<path d="M2012,610 Q2127,583 2247,598 Q2387,618 2467,700 Q2507,760 2517,832 Q2427,832 2307,790 Q2157,740 2012,610Z" fill="#6c1418"/>
<circle cx="2267" cy="680" r="62" fill="url(#gTail)"/><circle cx="2397" cy="742" r="56" fill="url(#gTail)"/><circle cx="2135" cy="640" r="30" fill="#b0262a"/>
<path d="M2030,612 Q2140,590 2260,604 Q2390,624 2462,700" fill="none" stroke="#a03a3a" stroke-width="8" opacity="0.7"/>
<path d="M3372,615 Q3327,598 3247,610 Q3187,640 3172,720 Q3167,790 3182,826 Q3267,812 3317,760 Q3357,700 3372,615Z" fill="#7c1519"/>
<circle cx="3250" cy="690" r="46" fill="url(#gTail)"/><circle cx="3210" cy="752" r="36" fill="url(#gTail)"/><circle cx="3280" cy="760" r="36" fill="url(#gTail)"/>
<!-- license plate recess + plate -->
<path d="M2627,650 Q2657,610 2727,600 L2957,610 Q3037,630 3077,700 L3102,800 L2617,826 L2602,740Z" fill="#e8921a"/>
<path d="M2627,650 Q2657,610 2727,600 L2957,610 Q3037,630 3077,700 L3060,690 Q3020,640 2950,632 L2740,626 Q2670,632 2640,670Z" fill="#b8680c"/>
<path d="M2642,672 L3017,665 L3049,795 L2687,803Z" fill="url(#gPlateC)"/>
<!-- grille -->
<path d="M2517,832 L3190,826" stroke="#5a3208" stroke-width="12"/>
<path d="M2532,845 L3177,838 Q3192,900 3162,960 Q3077,1000 2877,1005 Q2707,1000 2617,960 Q2557,900 2532,845Z" fill="url(#pMesh)"/>
<!-- diffuser details -->
<path d="M1967,1428 Q2040,1300 2177,1252 Q2327,1200 2527,1166 L2827,1150 L3227,1150 L3427,1170 Q3500,1215 3522,1262" fill="none" stroke="#6a6a6a" stroke-width="16"/>
<g stroke="#5c5c5c" stroke-width="12"><path d="M2387,1190 L2387,1340M2677,1160 L2677,1350M2957,1158 L2957,1350M3177,1160 L3177,1340M3367,1172 L3367,1320"/></g>
<g fill="#303030"><path d="M2400,1320 L2640,1180 L2660,1340Z"/><path d="M2690,1330 L2940,1180 L2945,1340Z"/><path d="M2970,1330 L3165,1185 L3165,1335Z"/><path d="M3190,1320 L3355,1200 L3355,1320Z"/></g>
<g><ellipse cx="2177" cy="1352" rx="66" ry="62" fill="#d9d9d9"/><ellipse cx="2177" cy="1354" rx="50" ry="47" fill="#1d1d1d"/><ellipse cx="2322" cy="1352" rx="64" ry="60" fill="#d9d9d9"/><ellipse cx="2322" cy="1354" rx="48" ry="45" fill="#1d1d1d"/>
<ellipse cx="3427" cy="1292" rx="36" ry="62" fill="#cfcfcf"/><ellipse cx="3430" cy="1292" rx="25" ry="48" fill="#1d1d1d"/><ellipse cx="3492" cy="1286" rx="33" ry="58" fill="#cfcfcf"/><ellipse cx="3495" cy="1286" rx="22" ry="44" fill="#1d1d1d"/></g>
<!-- seams -->
<g fill="none" stroke="#a85a06" stroke-width="4" opacity="0.8"><path d="M560,590 Q500,800 470,1180 L1040,1262"/><path d="M900,730 Q960,900 790,1200"/><path d="M1000,580 Q960,640 925,690"/><path d="M1827,480 Q1920,560 2012,610"/></g>
<ellipse cx="1085" cy="665" rx="42" ry="80" transform="rotate(25 1085 665)" fill="none" stroke="#d07d10" stroke-width="6"/>
<path d="M930,660 Q985,600 1000,570" stroke="#3a2a10" stroke-width="14" fill="none" stroke-linecap="round"/>
<!-- blue dashed guides -->
<g fill="none" stroke="#249bdc" stroke-width="9.5" stroke-dasharray="27 14">
<path d="M1185,430 L1100,468 L760,482 L600,550 L550,585 L520,650 L495,800 L480,1000 L478,1134 L1025,1215 L1030,1100 L1050,950 L1085,820 L1130,730 L1200,690 L1260,675 L1330,700 L1390,760 L1430,800 L1470,760 L1560,690 L1700,640 L1805,625"/>
<path d="M1805,625 L1887,590 L2027,575 L2157,570 L2277,580 L2387,620 L2467,690 L2517,790 L2547,826 L2602,826 L2597,740 L2617,660 L2657,620 L2727,600 L2847,625"/>
</g>
<!-- numbered badges -->
<g font-weight="bold" font-size="128" text-anchor="middle" fill="#fff">
<circle cx="1185" cy="425" r="88" fill="#fff"/><circle cx="1185" cy="425" r="80" fill="#0ea4f0"/><text x="1185" y="470">1</text>
<circle cx="1805" cy="625" r="88" fill="#fff"/><circle cx="1805" cy="625" r="80" fill="#0ea4f0"/><text x="1805" y="670">2</text>
<circle cx="2847" cy="625" r="88" fill="#fff"/><circle cx="2847" cy="625" r="80" fill="#0ea4f0"/><text x="2847" y="670">3</text>
</g>
</g>
<g id="circle1" transform="translate(0,1390) scale(0.17332)">
<g clip-path="url(#cC1)">
<rect x="60" y="60" width="1760" height="1760" fill="#f6a32c"/>
<path d="M60,590 L300,570 L1000,548 L1760,562 L1820,575 L1820,960 L60,960Z" fill="url(#gBrown1)"/>
<path d="M60,590 L300,570 L1000,548 L1760,562 L1820,575 L1820,960 L60,960Z" fill="url(#gBrown1h)"/>
<rect x="60" y="960" width="1760" height="870" fill="#767676"/>
<path d="M60,938 L1000,922 L1820,928 L1820,958 L1000,958 L60,972Z" fill="#141414"/>
<path d="M60,972 L1000,958 L1820,958 L1820,972 L1000,972 L60,986Z" fill="#4a4a4a"/>
<path d="M580,590 Q590,700 660,710 Q740,700 770,640" fill="none" stroke="#2a1a08" stroke-width="10"/>
<path d="M760,602 L910,575 L1185,575 L1190,890 L900,890 L760,800Z" fill="#141414"/>
<path d="M760,602 L910,575 L900,890 L760,800Z" fill="#2a2a2a"/>
<rect x="912" y="612" width="246" height="246" rx="52" fill="none" stroke="#eceb6e" stroke-width="22" stroke-dasharray="38 14"/>
<circle cx="1035" cy="735" r="98" fill="#0b0b0b"/><circle cx="1035" cy="735" r="92" fill="none" stroke="#333" stroke-width="8"/>
<circle cx="1025" cy="728" r="42" fill="#1a3f7a"/><circle cx="1025" cy="728" r="20" fill="#05070a"/><path d="M1000,705 Q1022,690 1045,702" stroke="#cfe4ff" stroke-width="7" fill="none"/>
</g>
<circle cx="937" cy="940" r="866" fill="none" stroke="#1789c6" stroke-width="23" stroke-dasharray="93 48"/>
</g>
<g id="circle2" transform="translate(300,1630) scale(0.17598)">
<g clip-path="url(#cC2)">
<rect x="90" y="30" width="1750" height="1750" fill="#f8ab38"/>
<path d="M90,540 Q500,500 960,496 Q1400,500 1840,540 L1840,700 L90,700Z" fill="url(#gBrown2)"/>
<rect x="90" y="690" width="1750" height="720" fill="#ffffff"/>
<path d="M90,790 Q100,742 160,740 L1770,740 Q1830,742 1840,790 L1840,1360 L90,1360Z" fill="#c3c3c3"/>
<path d="M950,505 L975,770" stroke="#111" stroke-width="9"/>
<rect x="138" y="764" width="1655" height="138" rx="66" fill="url(#gBar)"/>
<rect x="884" y="754" width="178" height="168" rx="22" fill="#0c0c0c"/>
<rect x="908" y="776" width="130" height="126" rx="30" fill="none" stroke="#e8e8e8" stroke-width="9" stroke-dasharray="12 8"/>
<circle cx="972" cy="832" r="44" fill="#1a1a1a"/><circle cx="972" cy="832" r="20" fill="#4a5a70"/>
<rect x="188" y="808" width="120" height="46" rx="23" fill="#ececec"/><rect x="1660" y="808" width="110" height="46" rx="23" fill="#ececec"/>
<circle cx="332" cy="830" r="66" fill="url(#gBall)"/><circle cx="1626" cy="830" r="66" fill="url(#gBall)"/>
<text x="1282" y="843" font-size="32" font-weight="bold" fill="#8a8a8a" textLength="160" lengthAdjust="spacingAndGlyphs">INCLAKE</text>
<rect x="90" y="1405" width="1750" height="200" fill="#f2a434"/>
<rect x="90" y="1405" width="1750" height="22" fill="#7a4a0c"/>
<rect x="90" y="1500" width="1750" height="34" fill="#5e3606"/>
<rect x="90" y="1534" width="1750" height="14" fill="#a8680e"/>
<rect x="90" y="1596" width="1750" height="200" fill="#1c1c1c"/>
<rect x="90" y="1612" width="1750" height="190" fill="url(#pHex)"/>
</g>
<circle cx="962" cy="902" r="858" fill="none" stroke="#1789c6" stroke-width="23" stroke-dasharray="93 48"/>
</g>
<g id="labels">
<g class="bk b" stroke="#000" stroke-width="2.4" stroke-linejoin="round">
<text x="1078" y="66" font-size="74" textLength="721" lengthAdjust="spacingAndGlyphs">A connected with B</text>
<text x="1081" y="174" font-size="74" textLength="720" lengthAdjust="spacingAndGlyphs">C connected with D</text>
</g>
<g class="bk b" stroke="#000" stroke-width="3.4" stroke-linejoin="round">
<text x="594.5" y="226" font-size="72" textLength="47" lengthAdjust="spacingAndGlyphs">A</text>
<text x="862.5" y="421.4" font-size="68" textLength="42" lengthAdjust="spacingAndGlyphs">B</text>
<text x="1709" y="1003.6" font-size="70" textLength="41" lengthAdjust="spacingAndGlyphs">C</text>
<text x="1697.5" y="1173" font-size="69" textLength="46" lengthAdjust="spacingAndGlyphs">D</text>
</g>
<g class="bl dj" stroke="#1297dd" stroke-width="1.8" stroke-linejoin="round">
<text x="1075" y="284" font-size="53" textLength="781" lengthAdjust="spacingAndGlyphs">Link to Camera and Monitor</text>
<text x="167.6" y="452" font-size="53" textLength="305" lengthAdjust="spacingAndGlyphs">Video (out)</text>
<text x="411" y="538" font-size="53" textLength="564" lengthAdjust="spacingAndGlyphs">To ground--iron part</text>
<text x="1187" y="539" font-size="53" textLength="578" lengthAdjust="spacingAndGlyphs">Camera Power Cable</text>
<text x="329.7" y="726.4" font-size="53" textLength="693" lengthAdjust="spacingAndGlyphs">To reversing light DC 12V</text>
</g>
<g class="bl dj" stroke="#1297dd" stroke-width="1.2" stroke-linejoin="round">
<text x="600.4" y="112.6" font-size="38.5" textLength="272" lengthAdjust="spacingAndGlyphs">(Trigger wire)</text>
<text x="1029.7" y="394" font-size="38.5" textLength="271" lengthAdjust="spacingAndGlyphs">(Trigger wire)</text>
<text x="1408.4" y="990" font-size="38.5" textLength="271" lengthAdjust="spacingAndGlyphs">(Trigger wire)</text>
<text x="1418.3" y="1164.4" font-size="38.5" textLength="271" lengthAdjust="spacingAndGlyphs">(Trigger wire)</text>
</g>
<g class="bl b">
<text x="38.5" y="1239.6" font-size="48" textLength="233">1.Monitor</text>
<text transform="translate(260.6,1237) scale(1.55,1)" font-size="42" font-weight="normal">（</text>
<text x="332" y="1239.6" font-size="48" textLength="306">not included</text>
<text transform="translate(645.4,1237) scale(1.55,1)" font-size="42" font-weight="normal">）</text>
<text x="35" y="1302.8" font-size="48" textLength="619">2.Camera Power Source</text>
<text x="36" y="1367.8" font-size="48" textLength="243">3.Camera</text>
</g>
<g class="dj" fill="#111" stroke="#111" stroke-width="1.5" stroke-linejoin="round">
<text x="336.9" y="1530.8" font-size="45.5" textLength="271" lengthAdjust="spacingAndGlyphs">Installation</text>
<text x="379" y="1580" font-size="45.5" textLength="196" lengthAdjust="spacingAndGlyphs">option 1</text>
<text x="29" y="1810.8" font-size="45.5" textLength="271" lengthAdjust="spacingAndGlyphs">Installation</text>
<text x="71.5" y="1860" font-size="45.5" textLength="201" lengthAdjust="spacingAndGlyphs">option 2</text>
</g>
</g>
</svg>
</body></html>
